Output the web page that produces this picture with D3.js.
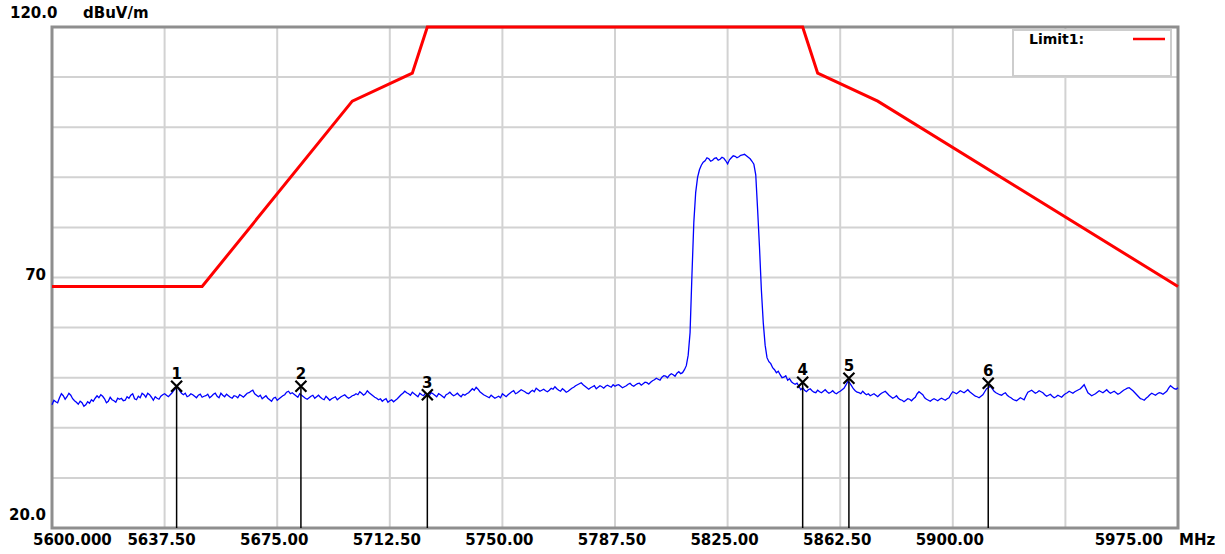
<!DOCTYPE html>
<html><head><meta charset="utf-8">
<script src="https://cdn.jsdelivr.net/npm/d3@7"></script>
<style>
html,body{margin:0;padding:0;background:#fff;}
svg{display:block;}
text{font-family:"DejaVu Sans",sans-serif;font-weight:bold;fill:#000;}
</style></head><body>
<svg id="chart" width="1225" height="554"></svg>
<script>
// ---------- data ----------
const freqDomain = [5600, 5975];
const levelDomain = [20, 120];
const xTickValues = [5600, 5637.5, 5675, 5712.5, 5750, 5787.5, 5825, 5862.5, 5900, 5937.5, 5975];
const xTickLabels = ["5600.000","5637.50","5675.00","5712.50","5750.00","5787.50","5825.00","5862.50","5900.00","","5975.00"];
const yGridValues = [30, 40, 50, 60, 70, 80, 90, 100, 110];
const yTickValues = [120, 70, 20];
const yTickLabels = ["120.0", "70", "20.0"];
const yUnit = "dBuV/m";
const xUnit = "MHz";

const limitName = "Limit1:";
const limitFreqs  = [5600, 5650, 5700, 5720, 5725, 5850, 5855, 5875, 5975];
const limitLevels = [68.2, 68.2, 105.2, 110.8, 122.2, 122.2, 110.8, 105.2, 68.2];

const traceStartMHz = 5600;
const traceStepMHz = 0.625;
const traceLevels = [
 44.6,45.5,45.2,45.0,46.0,46.8,46.4,45.7,46.2,46.9,46.5,45.8,45.4,45.1,44.7,45.3,45.0,44.3,44.6,45.2,44.9,
 45.6,45.3,45.9,46.4,46.0,46.6,46.3,45.8,45.0,45.3,46.1,45.6,45.4,45.1,45.9,45.7,45.9,45.4,45.5,46.2,
 45.9,46.5,46.8,45.8,45.6,46.3,46.0,46.9,46.6,46.1,46.9,46.6,46.1,45.5,46.2,45.9,45.7,46.3,46.6,46.8,
 46.5,46.2,46.6,47.0,47.5,47.9,48.1,47.4,46.9,46.6,46.9,46.2,46.4,46.8,46.6,46.3,46.0,46.5,46.7,46.1,
 46.3,46.4,46.7,46.0,46.3,46.7,46.9,46.3,46.0,46.9,46.5,46.2,46.7,46.4,46.1,45.9,46.4,46.3,46.0,46.6,
 46.4,46.1,46.5,46.9,47.0,47.3,47.5,46.8,46.5,46.2,46.5,45.8,46.1,46.4,45.9,45.6,45.3,45.9,46.1,45.5,
 45.8,46.1,46.4,46.6,47.1,47.3,46.8,47.0,46.7,46.4,46.1,46.8,46.5,46.2,45.9,45.7,46.0,46.3,46.5,45.9,
 46.2,46.5,46.1,45.8,45.6,46.3,45.9,45.5,45.8,46.0,46.2,45.6,45.9,46.2,46.4,46.6,46.2,45.9,46.1,46.4,
 46.5,46.8,46.6,47.2,46.9,46.5,46.8,47.4,47.0,46.7,46.4,46.1,45.9,45.6,45.8,45.3,45.6,45.8,45.1,45.4,
 45.6,45.2,45.5,45.8,46.2,46.6,46.9,47.3,47.0,46.8,46.5,47.1,46.8,46.5,46.2,46.9,46.6,46.4,46.9,46.7,
 46.4,47.0,46.8,46.5,46.2,46.8,46.6,46.3,46.0,46.6,46.8,47.1,46.7,46.4,46.6,46.9,46.5,46.2,46.7,46.5,
 46.8,47.0,47.4,47.8,47.5,48.1,47.7,47.2,46.9,46.6,46.4,46.2,46.0,46.5,46.2,45.9,46.1,46.3,46.0,46.8,
 46.5,46.2,46.6,46.9,47.2,47.4,46.8,47.0,47.3,47.6,47.4,47.2,46.9,46.8,47.2,47.5,47.2,47.9,47.6,47.3,
 47.5,47.7,47.4,47.2,47.5,47.9,47.7,48.2,47.8,47.5,47.3,47.8,47.5,47.1,47.3,47.6,47.9,48.1,48.4,48.6,
 48.8,49.0,48.6,48.3,48.0,47.7,48.0,48.2,48.4,47.8,48.1,48.4,48.2,47.9,48.3,48.5,48.3,48.1,48.6,48.3,
 48.5,48.6,48.3,48.0,48.2,48.4,48.7,48.9,48.5,48.3,48.6,48.8,48.9,48.5,48.8,49.1,49.0,48.7,49.1,49.4,
 49.6,49.9,49.7,49.5,50.1,50.4,50.3,50.0,50.5,50.8,50.6,50.3,50.9,51.2,50.8,51.0,51.6,52.4,54.5,59.0,
 70.5,81.0,87.0,90.0,91.5,92.4,93.0,93.3,93.9,93.7,93.2,93.4,93.8,93.9,93.4,93.6,94.0,93.8,93.3,92.7,
 93.5,93.9,94.3,94.2,93.9,94.1,94.4,94.5,94.6,94.3,94.0,93.7,93.2,92.6,90.5,83.5,76.0,67.5,61.0,56.5,
 54.0,53.2,52.8,52.0,51.6,51.0,51.3,50.6,50.0,50.1,50.4,49.5,49.8,49.2,48.9,48.7,48.9,48.3,47.6,48.0,
 47.5,47.2,47.6,47.8,47.4,47.1,47.0,47.5,47.2,47.0,47.3,47.6,47.2,46.9,47.1,47.4,47.0,46.8,47.1,47.3,
 47.6,47.9,48.5,49.2,49.0,48.4,47.8,47.4,47.1,47.0,46.8,47.3,46.9,46.6,46.8,46.4,46.6,46.8,46.5,46.2,
 46.6,46.9,47.1,47.3,46.9,46.5,46.2,45.9,46.1,46.4,45.9,45.6,45.5,45.2,45.5,45.8,45.7,45.4,45.8,46.1,
 46.8,47.2,46.9,46.6,46.0,45.7,45.5,45.3,45.6,45.8,45.6,45.4,45.7,45.9,45.7,45.5,45.8,46.0,46.7,47.2,
 47.0,46.8,47.1,47.4,47.2,47.0,47.3,47.6,47.2,46.9,46.6,46.3,46.2,46.0,46.3,46.6,47.2,47.8,48.0,48.3,
 47.8,47.3,47.0,46.8,46.6,46.5,46.8,47.0,46.5,46.2,46.0,45.7,45.5,45.4,45.7,46.0,45.8,45.6,46.4,47.1,
 47.3,47.5,47.2,46.9,47.1,47.4,47.2,47.0,46.6,46.3,46.5,46.7,46.3,46.0,46.2,46.5,46.3,46.1,46.5,46.8,
 47.0,47.3,47.1,46.9,47.2,47.4,47.6,47.8,48.2,48.6,47.8,47.0,46.7,46.4,46.6,46.8,47.1,47.4,47.2,47.0,
 47.3,47.6,47.2,46.9,47.1,47.3,47.0,46.7,46.9,47.2,47.5,47.7,47.9,48.0,47.7,47.4,47.0,46.6,46.2,45.8,
 45.7,45.5,45.9,46.2,46.6,46.9,46.7,46.5,46.8,47.0,46.9,46.7,47.0,47.3,47.9,48.4,48.1,47.8,47.7,48.0
];

const markerIds    = ["1", "2", "3", "4", "5", "6"];
const markerFreqs  = [5641.5, 5682.9, 5725.0, 5850.0, 5865.4, 5911.8];
const markerLevels = [48.3, 48.3, 46.6, 49.1, 49.9, 48.9];

// ---------- layout ----------
const plot = {left: 52, top: 27, right: 1178, bottom: 528};

const svg = d3.select("#chart");
const x = d3.scaleLinear().domain(freqDomain).range([plot.left, plot.right]);
const y = d3.scaleLinear().domain(levelDomain).range([plot.bottom, plot.top]).clamp(true);

// grid
const grid = svg.append("g").attr("stroke", "#d2d2d2").attr("stroke-width", 2);
grid.selectAll("line.v").data(xTickValues.slice(1, -1)).join("line")
  .attr("class", "v")
  .attr("x1", d => x(d)).attr("x2", d => x(d))
  .attr("y1", plot.top).attr("y2", plot.bottom);
grid.selectAll("line.h").data(yGridValues).join("line")
  .attr("class", "h")
  .attr("x1", plot.left).attr("x2", plot.right)
  .attr("y1", d => y(d)).attr("y2", d => y(d));

// frame
svg.append("rect")
  .attr("x", plot.left).attr("y", plot.top)
  .attr("width", plot.right - plot.left).attr("height", plot.bottom - plot.top)
  .attr("fill", "none").attr("stroke", "#8e8e8e").attr("stroke-width", 3);

// legend box
const legend = svg.append("g");
legend.append("rect")
  .attr("x", 1013).attr("y", 30).attr("width", 158).attr("height", 46)
  .attr("fill", "#fff").attr("stroke", "#cdcdcd").attr("stroke-width", 2);
legend.append("text").attr("x", 1029).attr("y", 44)
  .style("font-size", "14px").text(limitName);
legend.append("line").attr("x1", 1133).attr("x2", 1165).attr("y1", 39).attr("y2", 39)
  .attr("stroke", "#ff0000").attr("stroke-width", 2.5);

// trace
const traceData = traceLevels.map((v, i) => ({f: traceStartMHz + i * traceStepMHz, v}));
svg.append("path").datum(traceData)
  .attr("fill", "none").attr("stroke", "#0000ff").attr("stroke-width", 1.3)
  .attr("d", d3.line().x(d => x(d.f)).y(d => y(d.v)));

// limit line
const limitData = limitFreqs.map((f, i) => ({f, v: limitLevels[i]}));
svg.append("path").datum(limitData)
  .attr("fill", "none").attr("stroke", "#ff0000").attr("stroke-width", 3)
  .attr("d", d3.line().x(d => x(d.f)).y(d => y(d.v)));

// markers
const mk = svg.append("g").selectAll("g").data(markerIds.map((id, i) => ({id, f: markerFreqs[i], v: markerLevels[i]})))
  .join("g").attr("transform", d => `translate(${x(d.f)},${y(d.v)})`);
mk.append("line").attr("x1", 0).attr("x2", 0).attr("y1", 0)
  .attr("y2", d => plot.bottom - y(d.v))
  .attr("stroke", "#000").attr("stroke-width", 1.5);
mk.append("path").attr("d", "M-5.5,-5.5L5.5,5.5M-5.5,5.5L5.5,-5.5")
  .attr("stroke", "#000").attr("stroke-width", 2.2).attr("fill", "none");
mk.append("text").attr("x", 0).attr("y", -7).attr("text-anchor", "middle")
  .style("font-size", "15px").text(d => d.id);

// x tick labels
const n = xTickValues.length;
svg.append("g").selectAll("text").data(xTickValues.map((v, i) => ({v, label: xTickLabels[i], i})))
  .join("text")
  .attr("x", d => d.i === 0 ? x(d.v) - 19 : d.i === n - 1 ? x(d.v) - 15 : x(d.v) - 3)
  .attr("y", plot.bottom + 17)
  .attr("text-anchor", d => d.i === 0 ? "start" : d.i === n - 1 ? "end" : "middle")
  .style("font-size", "15px")
  .text(d => d.label);
svg.append("text").attr("x", plot.right + 1).attr("y", plot.bottom + 17)
  .style("font-size", "15px").text(xUnit);

// y tick labels
const yMax = d3.max(yTickValues), yMin = d3.min(yTickValues);
svg.append("g").selectAll("text").data(yTickValues.map((v, i) => ({v, label: yTickLabels[i]})))
  .join("text")
  .attr("x", d => d.v === yMax ? 10 : 46)
  .attr("y", d => d.v === yMax ? y(d.v) - 9 : d.v === yMin ? y(d.v) - 8 : y(d.v) + 2)
  .attr("text-anchor", d => d.v === yMax ? "start" : "end")
  .style("font-size", "15px")
  .text(d => d.label);
svg.append("text").attr("x", 83).attr("y", plot.top - 9)
  .style("font-size", "15px").text(yUnit);
</script>
</body></html>
